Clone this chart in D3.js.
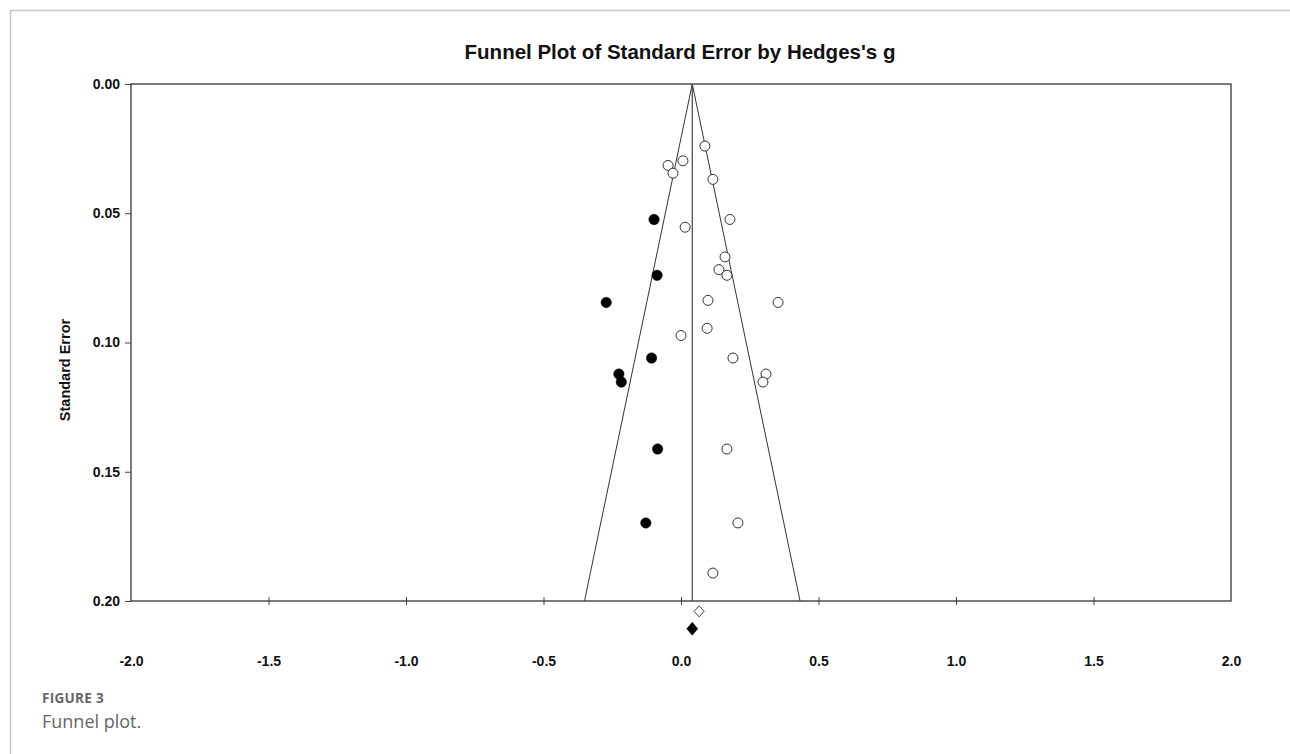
<!DOCTYPE html>
<html>
<head>
<meta charset="utf-8">
<script src="https://cdn.jsdelivr.net/npm/d3@7"></script>
<style>
  html, body { margin: 0; padding: 0; background: #fff; }
  svg { display: block; }
</style>
</head>
<body>
<svg id="chart" width="1290" height="754"></svg>
<script>
// ---- data ----
const chartTitle = "Funnel Plot of Standard Error by Hedges's g";
const yAxisTitle = "Standard Error";
const xTickValues = [-2.0, -1.5, -1.0, -0.5, 0.0, 0.5, 1.0, 1.5, 2.0];
const yTickValues = [0.00, 0.05, 0.10, 0.15, 0.20];

// observed studies (open circles)
const observedG  = [0.087, 0.007, -0.047, -0.029, 0.116, 0.178, 0.015, 0.160, 0.138, 0.167,
                    0.098, 0.353, 0.095, 0.000, 0.189, 0.309, 0.298, 0.167, 0.207, 0.116];
const observedSE = [0.024, 0.0297, 0.0315, 0.0345, 0.0369, 0.0524, 0.0554, 0.0669, 0.0718, 0.0740,
                    0.0837, 0.0845, 0.0945, 0.0973, 0.1060, 0.1122, 0.1153, 0.1412, 0.1698, 0.1892];

// imputed studies (filled circles)
const imputedG  = [-0.098, -0.087, -0.272, -0.107, -0.226, -0.217, -0.085, -0.128];
const imputedSE = [0.0524, 0.0740, 0.0845, 0.1060, 0.1122, 0.1153, 0.1412, 0.1698];

// combined effects (diamonds) : observed and adjusted
const summaryObservedG = 0.066, summaryObservedSE = 0.2040;
const summaryAdjustedG = 0.041, summaryAdjustedSE = 0.2107;
const centerG = 0.041;     // line of the funnel
const zCrit = 1.96;
const funnelMaxSE = 0.20;

// ---- layout ----
const svg = d3.select("#chart");
const W = 1290, H = 754;
const plot = { left: 131, right: 1231, top: 84, bottom: 601 };
const FONT = "'Liberation Sans', Arial, sans-serif";

const x = d3.scaleLinear().domain([-2, 2]).range([plot.left, plot.right]);
const y = d3.scaleLinear().domain([0, 0.2]).range([plot.top, plot.bottom]);

// page border (top and left light rules)
svg.append("line").attr("x1", 10).attr("x2", W).attr("y1", 10.5).attr("y2", 10.5)
  .attr("stroke", "#c8c8c8").attr("stroke-width", 1.5);
svg.append("line").attr("x1", 10.5).attr("x2", 10.5).attr("y1", 10).attr("y2", H)
  .attr("stroke", "#c8c8c8").attr("stroke-width", 1.5);

// title
svg.append("text")
  .attr("x", 680).attr("y", 59)
  .attr("text-anchor", "middle")
  .attr("font-family", FONT)
  .attr("font-weight", "bold")
  .attr("font-size", 20.5)
  .attr("fill", "#111")
  .text(chartTitle);

// frame
svg.append("rect")
  .attr("x", plot.left).attr("y", plot.top)
  .attr("width", plot.right - plot.left).attr("height", plot.bottom - plot.top)
  .attr("fill", "none").attr("stroke", "#222").attr("stroke-width", 1.2);

const hyphenFmt = f => (d => f(d).replace("\u2212", "-"));

// y axis
const yAxis = d3.axisLeft(y).tickValues(yTickValues).tickFormat(hyphenFmt(d3.format(".2f"))).tickSize(6).tickPadding(5);
const gy = svg.append("g").attr("transform", `translate(${plot.left},0)`).call(yAxis);
gy.select(".domain").remove();
gy.selectAll("line").attr("stroke", "#444");
gy.selectAll("text")
  .attr("font-family", FONT)
  .attr("font-weight", "bold").attr("font-size", 14).attr("fill", "#111");

// x axis tick marks (crossing the bottom frame)
const xAxis = d3.axisBottom(x).tickValues(xTickValues.filter(v => v > -2 && v < 2)).tickSize(4).tickFormat("");
const gx = svg.append("g").attr("transform", `translate(0,${plot.bottom})`).call(xAxis);
gx.select(".domain").remove();
gx.selectAll("line").attr("y1", -4).attr("y2", 4).attr("stroke", "#444");

// x tick labels
const xLab = d3.axisBottom(x).tickValues(xTickValues).tickFormat(hyphenFmt(d3.format(".1f"))).tickSize(0).tickPadding(55);
const gxl = svg.append("g").attr("transform", `translate(0,${plot.bottom})`).call(xLab);
gxl.select(".domain").remove();
gxl.selectAll("text")
  .attr("font-family", FONT)
  .attr("font-weight", "bold").attr("font-size", 14).attr("fill", "#111");

// y axis title
svg.append("text")
  .attr("transform", `translate(70,370) rotate(-90)`)
  .attr("text-anchor", "middle")
  .attr("font-family", FONT)
  .attr("font-weight", "bold").attr("font-size", 14.5).attr("fill", "#111")
  .text(yAxisTitle);

// funnel lines
const funnel = d3.line().x(d => x(d[0])).y(d => y(d[1]));
svg.append("path")
  .attr("d", funnel([[centerG - zCrit * funnelMaxSE, funnelMaxSE], [centerG, 0], [centerG + zCrit * funnelMaxSE, funnelMaxSE]]))
  .attr("fill", "none").attr("stroke", "#333").attr("stroke-width", 1);
svg.append("line")
  .attr("x1", x(centerG)).attr("x2", x(centerG))
  .attr("y1", y(0)).attr("y2", y(0.2))
  .attr("stroke", "#444").attr("stroke-width", 1.2);

// observed studies
svg.append("g").selectAll("circle")
  .data(observedG.map((g, i) => [g, observedSE[i]]))
  .join("circle")
  .attr("cx", d => x(d[0])).attr("cy", d => y(d[1])).attr("r", 5)
  .attr("fill", "#fff").attr("stroke", "#333").attr("stroke-width", 1);

// imputed studies
svg.append("g").selectAll("circle")
  .data(imputedG.map((g, i) => [g, imputedSE[i]]))
  .join("circle")
  .attr("cx", d => x(d[0])).attr("cy", d => y(d[1])).attr("r", 5.2)
  .attr("fill", "#000").attr("stroke", "#000").attr("stroke-width", 0.5);

// diamonds
function diamond(g, se, hw, hh) {
  const cx = x(g), cy = y(se);
  return `M${cx},${cy - hh}L${cx + hw},${cy}L${cx},${cy + hh}L${cx - hw},${cy}Z`;
}
svg.append("path").attr("d", diamond(summaryObservedG, summaryObservedSE, 5, 5.5))
  .attr("fill", "#fff").attr("stroke", "#444").attr("stroke-width", 1);
svg.append("path").attr("d", diamond(summaryAdjustedG, summaryAdjustedSE, 5.5, 6.5))
  .attr("fill", "#000").attr("stroke", "#000").attr("stroke-width", 0.5);

// caption
svg.append("text")
  .attr("x", 42).attr("y", 702.5)
  .attr("font-family", "'Open Sans', 'Noto Sans', sans-serif")
  .attr("font-weight", "bold").attr("font-size", 13.5).attr("fill", "#666")
  .attr("letter-spacing", 0.3)
  .text("FIGURE 3");
svg.append("text")
  .attr("x", 42).attr("y", 728)
  .attr("font-family", "'Open Sans', 'Noto Sans', sans-serif")
  .attr("font-size", 18).attr("fill", "#666")
  .text("Funnel plot.");
</script>
</body>
</html>
